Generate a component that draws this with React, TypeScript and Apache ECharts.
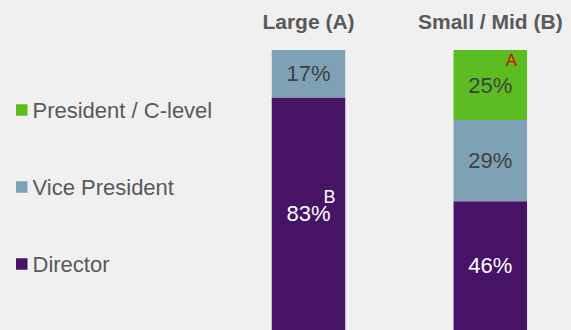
import React, { useEffect, useRef } from "react";
import * as echarts from "echarts";

const categories = ["Large (A)", "Small / Mid (B)"];
const seriesNames = ["President / C-level", "Vice President", "Director"];
const presidentValues: (number | string)[] = ["-", 25];
const vicePresidentValues = [17, 29];
const directorValues = [83, 46];
const seriesColors = ["#5bbd21", "#7fa1b5", "#461366"];
const annotationA = "A";
const annotationB = "B";

const FONT = '"Liberation Sans", Arial, sans-serif';

export default function App() {
  const ref = useRef<HTMLDivElement>(null);
  useEffect(() => {
    if (!ref.current) return;
    const chart = echarts.init(ref.current, undefined, { renderer: "svg" });
    const labelBase = {
      show: true,
      position: "inside" as const,
      fontSize: 22,
      fontFamily: FONT,
      formatter: "{c}%",
    };
    const option: any = {
      animation: false,
      backgroundColor: "#f0f0f0",
      legend: {
        orient: "vertical",
        left: 11,
        top: 94,
        itemWidth: 11.5,
        itemHeight: 11.5,
        itemGap: 55,
        icon: "rect",
        data: seriesNames,
        textStyle: {
          fontSize: 22,
          lineHeight: 22,
          color: "#595959",
          fontFamily: FONT,
        },
      },
      grid: { left: 308.5, right: 80.7, top: 50, bottom: 0 },
      xAxis: {
        type: "category",
        position: "top",
        boundaryGap: false,
        data: categories,
        axisLine: { show: false },
        axisTick: { show: false },
        axisLabel: {
          interval: 0,
          margin: 18,
          fontSize: 21,
          fontWeight: "bold",
          color: "#595959",
          fontFamily: FONT,
          lineHeight: 22,
        },
      },
      yAxis: {
        type: "value",
        min: 0,
        max: 100,
        show: false,
        splitLine: { show: false },
      },
      series: [
        {
          name: seriesNames[2],
          type: "bar",
          stack: "total",
          clip: false,
          barWidth: 73.5,
          data: directorValues,
          itemStyle: { color: seriesColors[2] },
          label: { ...labelBase, color: "#ffffff" },
        },
        {
          name: seriesNames[1],
          type: "bar",
          stack: "total",
          clip: false,
          barWidth: 73.5,
          data: vicePresidentValues,
          itemStyle: { color: seriesColors[1] },
          label: { ...labelBase, color: "#404040" },
        },
        {
          name: seriesNames[0],
          type: "bar",
          stack: "total",
          clip: false,
          barWidth: 73.5,
          data: presidentValues,
          itemStyle: { color: seriesColors[0] },
          label: { ...labelBase, color: "#404040" },
        },
      ],
    };
    chart.setOption(option);
    const pA = chart.convertToPixel({ gridIndex: 0 }, [1, 100]) as number[];
    const pB = chart.convertToPixel({ gridIndex: 0 }, [0, directorValues[0] / 2]) as number[];
    chart.setOption({
      graphic: [
        {
          type: "text",
          z: 100,
          x: pA[0] + 21,
          y: pA[1] + 10.5,
          style: {
            text: annotationA,
            fill: "#e00000",
            font: `17px ${FONT}`,
            align: "center",
            verticalAlign: "middle",
          },
        },
        {
          type: "text",
          z: 100,
          x: pB[0] + 21,
          y: pB[1] - 17,
          style: {
            text: annotationB,
            fill: "#ffffff",
            font: `18px ${FONT}`,
            align: "center",
            verticalAlign: "middle",
          },
        },
      ],
    });
    return () => chart.dispose();
  }, []);
  return (
    <div
      ref={ref}
      style={{ position: "absolute", left: 0, top: 0, width: 571, height: 330 }}
    />
  );
}
